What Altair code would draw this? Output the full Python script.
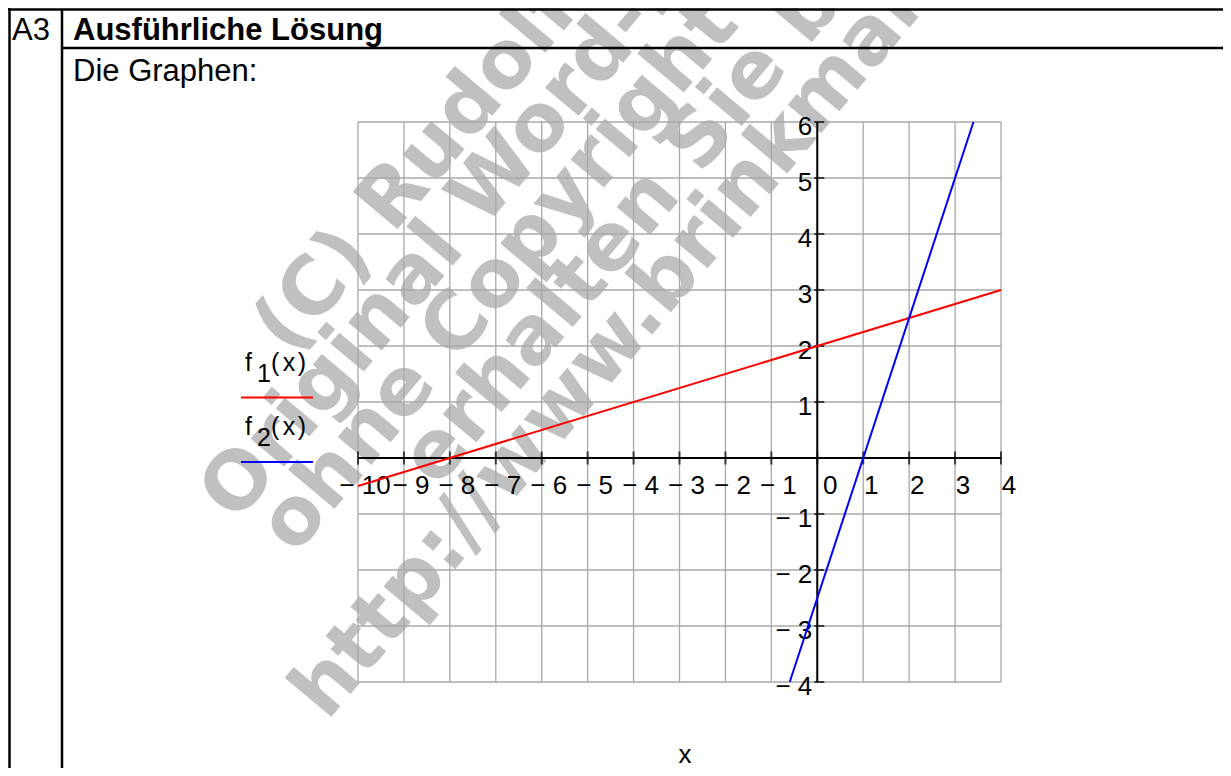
import altair as alt
import pandas as pd

# ---- data ----
x_ticks = [-10, -9, -8, -7, -6, -5, -4, -3, -2, -1, 0, 1, 2, 3, 4]
y_ticks = [-4, -3, -2, -1, 0, 1, 2, 3, 4, 5, 6]
x_label_vals = [-10, -9, -8, -7, -6, -5, -4, -3, -2, -1, 0, 1, 2, 3, 4]
x_label_text = ["− 10", "− 9", "− 8", "− 7", "− 6", "− 5", "− 4", "− 3", "− 2", "− 1",
                "0", "1", "2", "3", "4"]
y_label_vals = [-4, -3, -2, -1, 1, 2, 3, 4, 5, 6]
y_label_text = ["− 4", "− 3", "− 2", "− 1", "1", "2", "3", "4", "5", "6"]

f1_x = [-10, 4]
f1_y = [-0.5, 3]
f2_x = [-0.6, 3.4]
f2_y = [-4, 6]

watermark_lines = ["(C) Rudolf Brinkmann", "Original Word-Datei", "ohne Copyright",
                   "erhalten Sie bei", "http://www.brinkmann-du.de"]
watermark_x = [-68, -122, -63, 79, -31]
watermark_y = [235, 402, 434, 367, 600]

W, H = 643, 560
FONT = "Liberation Sans"

xs = alt.Scale(domain=[-10, 4], nice=False, zero=False)
ys = alt.Scale(domain=[-4, 6], nice=False, zero=False)

one = pd.DataFrame({"a": [0]})

# ---- watermark ----
wm_df = pd.DataFrame({"t": watermark_lines, "px": watermark_x, "py": watermark_y})
watermark = alt.Chart(wm_df).mark_text(
    align="left", baseline="alphabetic", angle=310, font="DejaVu Sans",
    fontWeight="bold", fontSize=80, color="#c0c0c0"
).encode(
    x=alt.X("px:Q", scale=None), y=alt.Y("py:Q", scale=None), text="t:N"
)

# ---- grid ----
gx = alt.Chart(pd.DataFrame({"v": x_ticks})).mark_rule(color="#a8a8a8", strokeWidth=1.3).encode(
    x=alt.X("v:Q", scale=xs, axis=None), y=alt.value(0), y2=alt.value(H)
)
gy = alt.Chart(pd.DataFrame({"v": y_ticks})).mark_rule(color="#a8a8a8", strokeWidth=1.3).encode(
    y=alt.Y("v:Q", scale=ys, axis=None), x=alt.value(0), x2=alt.value(W)
)

# ---- axes through the origin ----
xaxis = alt.Chart(pd.DataFrame({"x0": [x_ticks[0]], "x1": [x_ticks[-1]], "y0": [0]})).mark_rule(
    color="black", strokeWidth=2).encode(
    x=alt.X("x0:Q", scale=xs), x2="x1:Q", y=alt.Y("y0:Q", scale=ys)
)
yaxis = alt.Chart(pd.DataFrame({"y0": [y_ticks[0]], "y1": [y_ticks[-1]], "x0": [0]})).mark_rule(
    color="black", strokeWidth=2).encode(
    y=alt.Y("y0:Q", scale=ys), y2="y1:Q", x=alt.X("x0:Q", scale=xs)
)

xt_df = pd.DataFrame({"v": x_ticks, "z": 0})
xticks = alt.Chart(xt_df).mark_tick(orient="vertical", size=13, thickness=2, color="black").encode(
    x=alt.X("v:Q", scale=xs), y=alt.Y("z:Q", scale=ys)
)
yt_df = pd.DataFrame({"v": y_ticks, "z": 0})
yticks = alt.Chart(yt_df).mark_tick(orient="horizontal", size=10, thickness=2, color="black",
                                    xOffset=2).encode(
    y=alt.Y("v:Q", scale=ys), x=alt.X("z:Q", scale=xs)
)

LS = 26
xl_df = pd.DataFrame({"v": x_label_vals, "t": x_label_text, "z": 0})
xlab_neg = alt.Chart(xl_df).transform_filter("datum.v < 0").mark_text(
    align="center", baseline="middle", dx=7, dy=28, font=FONT, fontSize=LS, color="black"
).encode(x=alt.X("v:Q", scale=xs), y=alt.Y("z:Q", scale=ys), text="t:N")
xlab_pos = alt.Chart(xl_df).transform_filter("datum.v > 0").mark_text(
    align="center", baseline="middle", dx=8, dy=28, font=FONT, fontSize=LS, color="black"
).encode(x=alt.X("v:Q", scale=xs), y=alt.Y("z:Q", scale=ys), text="t:N")
xlab_zero = alt.Chart(xl_df).transform_filter("datum.v == 0").mark_text(
    align="center", baseline="middle", dx=13, dy=28, font=FONT, fontSize=LS, color="black"
).encode(x=alt.X("v:Q", scale=xs), y=alt.Y("z:Q", scale=ys), text="t:N")

yl_df = pd.DataFrame({"v": y_label_vals, "t": y_label_text, "z": 0})
ylab = alt.Chart(yl_df).mark_text(
    align="right", baseline="middle", dx=-5, dy=5, font=FONT, fontSize=LS, color="black"
).encode(y=alt.Y("v:Q", scale=ys), x=alt.X("z:Q", scale=xs), text="t:N")

# ---- function graphs ----
f1 = alt.Chart(pd.DataFrame({"x": f1_x, "y": f1_y})).mark_line(color="#ff0000", strokeWidth=2).encode(
    x=alt.X("x:Q", scale=xs), y=alt.Y("y:Q", scale=ys)
)
f2 = alt.Chart(pd.DataFrame({"x": f2_x, "y": f2_y})).mark_line(color="#0000ff", strokeWidth=2).encode(
    x=alt.X("x:Q", scale=xs), y=alt.Y("y:Q", scale=ys)
)

# ---- legend (Mathcad style) ----
def txt(s, px, py, size=25, weight="normal", align="left"):
    return alt.Chart(one).mark_text(
        text=s, align=align, baseline="alphabetic", font=FONT, fontSize=size,
        fontWeight=weight, color="black"
    ).encode(x=alt.value(px), y=alt.value(py))

def hline(px1, px2, py, color, sw):
    return alt.Chart(one).mark_rule(color=color, strokeWidth=sw).encode(
        x=alt.value(px1), x2=alt.value(px2), y=alt.value(py))

def vline(px, py1, py2, color, sw):
    return alt.Chart(one).mark_rule(color=color, strokeWidth=sw).encode(
        x=alt.value(px), y=alt.value(py1), y2=alt.value(py2))

def fx(sub, py):
    return [
        txt("f", -113, py), txt(sub, -101, py + 11),
        txt("(", -87, py), txt("x", -69, py, align="center"), txt(")", -52, py, align="right"),
    ]

legend = fx("1", 249) + [hline(-117, -45, 275.5, "#ff0000", 2)] + \
         fx("2", 313) + [hline(-117, -45, 340, "#0000ff", 2)]

# ---- table frame and headings ----
frame = [
    hline(-350, 865, -112.5, "black", 2.5),
    vline(-348.5, -114, 646, "black", 2.5),
    vline(-296, -113, 646, "black", 2.5),
    hline(-296, 865, -74, "black", 2.5),
]
texts = [
    txt("A3", -346, -82, size=31),
    txt("Ausführliche Lösung", -285, -82, size=31, weight="bold"),
    txt("Die Graphen:", -285, -41, size=31),
    txt("x", 327, 641, size=26, align="center"),
]

chart = alt.layer(
    watermark, gx, gy, *frame, xaxis, yaxis, xticks, yticks,
    xlab_neg, xlab_pos, xlab_zero, ylab, f1, f2, *legend, *texts
).properties(
    width=W, height=H,
    padding={"left": 350, "top": 114, "right": 222, "bottom": 86},
    autosize=alt.AutoSizeParams(type="none"),
).configure_view(strokeWidth=0)

chart.save("out.html", embed_options={"renderer": "svg", "actions": False})
